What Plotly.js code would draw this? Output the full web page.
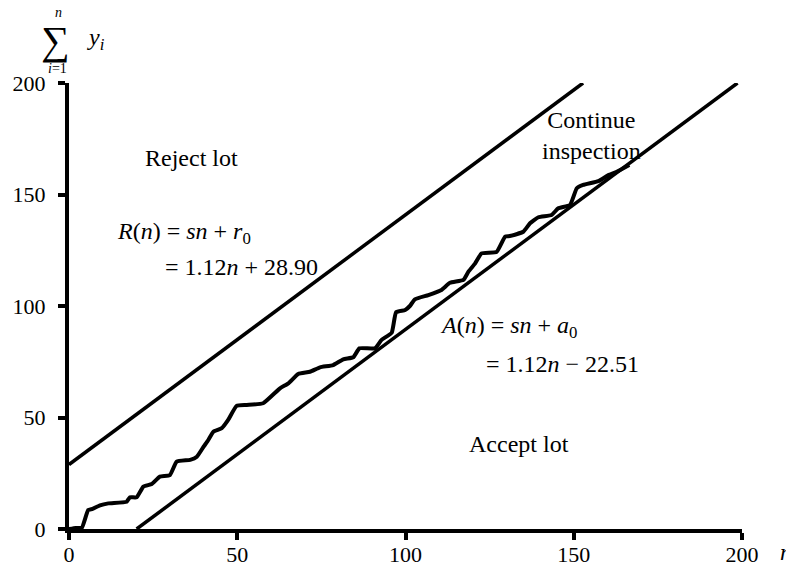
<!DOCTYPE html>
<html><head><meta charset="utf-8">
<script src="https://cdn.plot.ly/plotly-3.0.1.min.js"></script>
<style>html,body{margin:0;padding:0;background:#fff}#chart{width:786px;height:569px}</style>
</head><body><div id="chart"></div>
<script>
// Cumulative sum of defectives vs n
const sampleN = [0, 2, 3.8, 5.7, 7, 9.2, 11.7, 17.1, 18.1, 20.1, 22.1, 24.6, 27, 30, 32, 36, 38, 40, 41.4, 42.9, 45.4, 47.3, 49.8, 52.8, 57.7, 62.7, 65.2, 68.1, 71.6, 74.6, 78.5, 81.5, 84.5, 86.3, 90.9, 92.9, 95.9, 97.2, 99.9, 101.3, 102.8, 106.8, 110.7, 113.2, 117.2, 118.7, 120.7, 122.6, 127.1, 129.6, 131, 135, 137, 139.5, 143.4, 145.4, 148.9, 150.9, 152.8, 157.3, 160.3, 162.8, 166.5];
const cumSum = [0, 0.5, 0.5, 8.5, 9, 10.6, 11.5, 12.2, 14.2, 14.2, 19, 20.2, 23.5, 24.2, 30.2, 31, 32.4, 36.9, 39.9, 43.6, 45.2, 48.9, 55.2, 55.6, 56.4, 63.1, 65.3, 69.5, 70.5, 72.5, 73.5, 76.1, 77, 81, 81, 84.8, 88, 97.2, 98.2, 100, 103, 104.9, 107.2, 110.4, 111.7, 115.4, 119.1, 123.6, 124.3, 131.1, 131.4, 133.3, 137.1, 139.8, 140.8, 143.8, 145.3, 152.8, 154.3, 156, 158.7, 160.2, 163.2];
// Rejection line R(n) = 1.12n + 28.90 (endpoints)
const rejectN = [0, 152.77];
const rejectY = [28.90, 200];
// Acceptance line A(n) = 1.12n - 22.51 (endpoints)
const acceptN = [20.10, 198.67];
const acceptY = [0, 200];
const tickVals = [0, 50, 100, 150, 200];
const tickText = ['0', '50', '100', '150', '200'];

const F = 'Liberation Serif, Times New Roman, serif';
const lineStyle = {color: '#000', width: 3.5};
const traces = [
  {x: rejectN, y: rejectY, mode: 'lines', line: lineStyle, hoverinfo: 'skip'},
  {x: acceptN, y: acceptY, mode: 'lines', line: lineStyle, hoverinfo: 'skip'},
  {x: sampleN, y: cumSum, mode: 'lines', line: {color: '#000', width: 4, shape: 'spline', smoothing: 0.4}, hoverinfo: 'skip'}
];
const txt = (x, y, text, extra) => Object.assign({x, y, xref: 'x', yref: 'y', text, showarrow: false, font: {family: F, size: 24, color: '#000'}}, extra || {});
const ptxt = (x, y, text, size, extra) => Object.assign({x, y, xref: 'paper', yref: 'paper', xanchor: 'center', yanchor: 'middle', text, showarrow: false, font: {family: F, size, color: '#000'}}, extra || {});
const axisCommon = {range: [0, 200], tickvals: tickVals, ticktext: tickText, showgrid: false, zeroline: false,
  showline: true, linecolor: '#000', linewidth: 4, ticks: 'outside', ticklen: 7, tickwidth: 4, tickcolor: '#000',
  tickfont: {family: F, size: 22, color: '#000'}, fixedrange: true};
const layout = {
  width: 786, height: 569,
  margin: {l: 69, r: 44, t: 83, b: 40},
  paper_bgcolor: '#fff', plot_bgcolor: '#fff',
  showlegend: false,
  font: {family: F, size: 22, color: '#000'},
  xaxis: Object.assign({}, axisCommon, {ticklabelstandoff: -4}),
  yaxis: Object.assign({}, axisCommon, {ticklabelstandoff: 8}),
  annotations: [
    txt(36.3, 166.4, 'Reject lot'),
    txt(155.4, 176.3, 'Continue<br>inspection'),
    txt(13.7, 132.7, '<i>R</i>(<i>n</i>) = <i>sn</i> + <i>r</i><sub>0</sub>', {xanchor: 'left'}),
    txt(27.9, 117.5, '= 1.12<i>n</i> + 28.90', {xanchor: 'left'}),
    txt(109.7, 90.6, '<i>A</i>(<i>n</i>) = <i>sn</i> + <i>a</i><sub>0</sub>', {xanchor: 'left'}),
    txt(123.3, 74, '= 1.12<i>n</i> − 22.51', {xanchor: 'left'}),
    txt(133.7, 38.1, 'Accept lot'),
    ptxt(-0.0208, 1.096, '∑', 40),
    ptxt(-0.0163, 1.158, '<i>n</i>', 14),
    ptxt(-0.0178, 1.032, '<i>i</i>=1', 14),
    ptxt(0.0400, 1.098, '<i>y</i><sub><i>i</i></sub>', 24),
    ptxt(1.053, -0.0516, '<i>n</i>', 24, {xanchor: 'left'})
  ]
};
Plotly.newPlot('chart', traces, layout, {displayModeBar: false, staticPlot: true});
</script></body></html>
